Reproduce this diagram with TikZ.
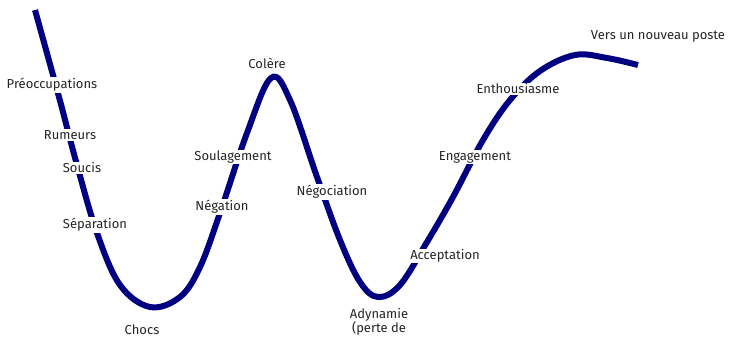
\documentclass[tikz,border=0pt]{standalone}
\usepackage{fontspec}
\setmainfont{Fira Sans}
\definecolor{marine}{RGB}{0,0,128}
\tikzset{
  etape/.style={fill=white, inner sep=1pt, text=black!85, font=\fontsize{13}{14}\selectfont},
  courbe/.style={line width=6pt, marine, line cap=butt}
}
\begin{document}
\begin{tikzpicture}[x=1pt, y=-1pt]
    \useasboundingbox (0,0) rectangle (729,337);

    % Courbe du changement
    \draw[courbe] plot[smooth, tension=0.6] coordinates {
        (35,10) (59,97) (77,165) (97,233) (120,285) (150,307) (180,297)
        (200,267) (220,213) (247,133) (271,78) (290,100) (317,177)
        (340,240) (360,282) (378,297) (400,285) (427,242) (453,197)
        (483,140) (510,100) (540,71) (575,55) (607,58) (638,65)};

    % Etapes
    \node[etape] (preocc) at (52,85) {Préoccupations};
    \node[etape] (rumeurs) at (70,135) {Rumeurs};
    \node[etape] (soucis) at (82,168) {Soucis};
    \node[etape] (separ) at (95,225) {Séparation};
    \node[etape] (chocs) at (142,330) {Chocs};
    \node[etape] (negation) at (222,207) {Négation};
    \node[etape] (soulag) at (233,157) {Soulagement};
    \node[etape] (colere) at (267,63) {Colère};
    \node[etape] (negoc) at (332,192) {Négociation};
    \node[etape, align=center] (adyn) at (379,322) {Adynamie\\(perte de};
    \node[etape] (accept) at (445,256) {Acceptation};
    \node[etape] (engag) at (475,157) {Engagement};
    \node[etape] (enthou) at (518,89) {Enthousiasme};
    \node[etape] (poste) at (658,36) {Vers un nouveau poste};
\end{tikzpicture}
\end{document}
